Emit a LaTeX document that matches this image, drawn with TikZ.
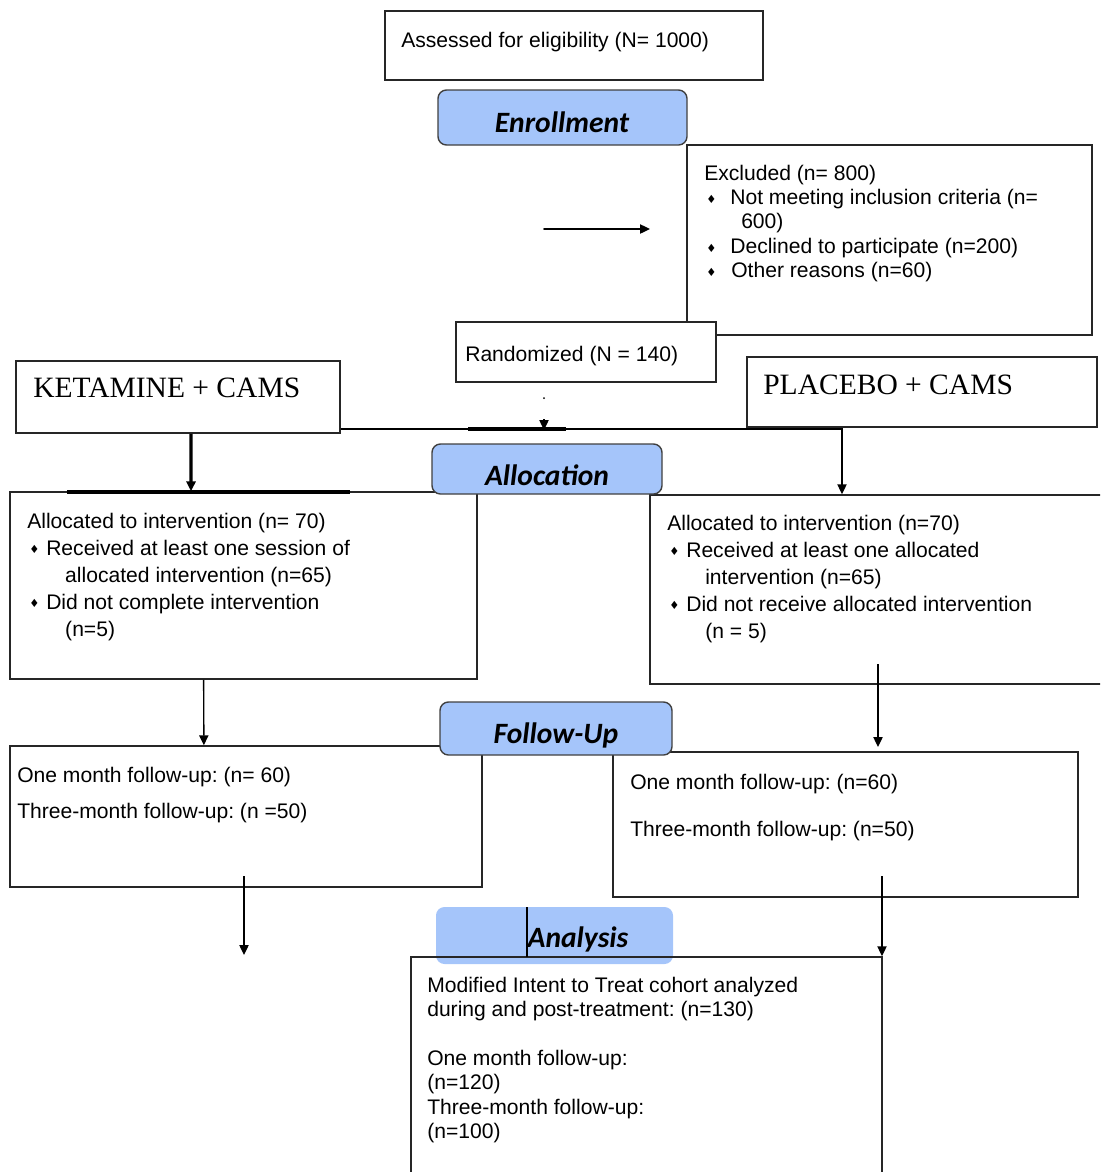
\documentclass[tikz,border=0pt]{standalone}
\usepackage{fontspec}
\setmainfont{Liberation Sans}
\newfontfamily\seriffont{Liberation Serif}
\newfontfamily\phasefont{Carlito}
\newfontfamily\diafont{DejaVu Sans}
\usetikzlibrary{arrows.meta,fit,calc}
\frenchspacing

\definecolor{phaseblue}{RGB}{165,197,250}
\newcommand{\dia}{\raisebox{1pt}{\diafont\fontsize{8pt}{8pt}\selectfont ♦}}
\newcommand{\bul}[1]{\makebox[#1][l]{\hspace{1.5pt}\dia}}
\newcommand{\boxlines}[1]{\begin{tabular}[t]{@{}l@{}}#1\end{tabular}}

\tikzset{
  >={Triangle[length=7pt,width=6.5pt]},
  box/.style={draw=black!85, line width=1.1pt, fill=white, inner sep=0pt},
  phase/.style={draw=black!75, line width=1pt, fill=phaseblue, rounded corners=6pt, inner sep=0pt},
  phasetext/.style={anchor=base, inner sep=0pt, font=\phasefont\bfseries\itshape\fontsize{21pt}{21pt}\selectfont},
  txt/.style={anchor=base west, inner sep=0pt, font=\fontsize{15pt}{17.4pt}\selectfont},
  conn/.style={line width=1pt, ->},
  thickbar/.style={line width=2.4pt},
}

\begin{document}
\begin{tikzpicture}[x=0.025cm, y=-0.025cm]
\useasboundingbox (0,0) rectangle (1100,1172);
\clip (0,0) rectangle (1100,1172);

% boxes
\node (assess) [box, fit={(385,11) (763,80)}] {};
\node (excl) [box, fit={(687,145) (1092,335)}] {};
\node (rand) [box, fit={(456,322) (716,382)}] {};
\node (keta) [box, fit={(16,361) (340,433)}] {};
\node (plac) [box, fit={(747,357) (1097,427)}] {};
\node (lalloc) [box, fit={(10,492) (477,679)}] {};
\node (ralloc) [box, fit={(650,495) (1112,684)}] {};
\node (lfu) [box, fit={(10,746) (482,887)}] {};
\node (rfu) [box, fit={(613,752) (1078,897)}] {};

% connectors
\coordinate (exA) at (544,229);
\coordinate (exB) at (650,229);
\fill (exA) circle (0.8);
\draw [conn] (exA) -- (exB);

\coordinate (randdot) at (544,398);
\coordinate (randtip) at (544,430);
\fill (randdot) circle (1);
\draw [conn] (randtip) ++(0,-11) -- (randtip);
\draw [thickbar] (468,429) -- (566,429);

\coordinate (split) at (842,429);
\draw [conn] (keta.east |- split) -| (ralloc.north -| split);

\draw [conn, line width=2.2pt] ($(keta.south west)!0.54!(keta.south east)$) -- ($(lalloc.north west)!0.388!(lalloc.north east)$);
\draw [thickbar] (67,492) -- (350,492);

\draw [conn] ($(lalloc.south west)!0.415!(lalloc.south east)$) -- ($(lfu.north west)!0.411!(lfu.north east)$);
\coordinate (rc1) at (878,664);
\coordinate (rc2) at (878,747);
\draw [conn] (rc1) -- (rc2);

\coordinate (lf1) at (244,876);
\coordinate (lf2) at (244,955);
\draw [conn] (lf1) -- (lf2);

% phase labels
\node (enrol) [phase, fit={(438,90) (687,145)}] {};
\node (alloc) [phase, fit={(432,444) (662,494)}] {};
\node (fu) [phase, fit={(440,702) (672,755)}] {};
\node (anaphase) [phase, draw=none, fit={(436,907) (673,964)}] {};
\node (ana) [box, fill=none, fit={(411,957) (882,1190)}] {};
\draw [line width=1pt] (527,907) -- (527,957);
\coordinate (rf1) at (882,876);
\draw [conn] (rf1) -- (rf1 |- ana.north);

\node (enroltxt) [phasetext] at (562,132) {Enrollment};
\node (alloctxt) [phasetext] at (547,485) {Allocation};
\node (futxt) [phasetext] at (556,743) {Follow-Up};
\node (anatxt) [phasetext] at (578,947) {Analysis};

% texts
\node (assesstxt) [txt] at (401,47) {Assessed for eligibility (N= 1000)};
\node (excltxt) [txt] at (704,180) {\boxlines{Excluded (n= 800)\\
  \bul{18.5pt}Not meeting inclusion criteria (n=\\
  \hspace*{26.3pt}600)\\
  \bul{18.5pt}Declined to participate (n=200)\\
  \bul{19.2pt}Other reasons (n=60)}};
\node (randtxt) [txt] at (465,361) {Randomized (N = 140)};
\node (ketatxt) [txt, font=\seriffont\fontsize{21pt}{21pt}\selectfont] at (33,397) {KETAMINE + CAMS};
\node (plactxt) [txt, font=\seriffont\fontsize{21pt}{21pt}\selectfont] at (763,394) {PLACEBO + CAMS};

\node (lalloctxt) [txt, font=\fontsize{15pt}{19.2pt}\selectfont] at (27,528) {\boxlines{Allocated to intervention (n= 70)\\
  \bul{13.5pt}Received at least one session of\\
  \hspace*{27pt}allocated intervention (n=65)\\
  \bul{13.5pt}Did not complete intervention\\
  \hspace*{27pt}(n=5)}};
\node (ralloctxt) [txt, font=\fontsize{15pt}{19.2pt}\selectfont] at (667,530) {\boxlines{Allocated to intervention (n=70)\\
  \bul{13.5pt}Received at least one allocated\\
  \hspace*{27pt}intervention (n=65)\\
  \bul{13.5pt}Did not receive allocated intervention\\
  \hspace*{27pt}(n = 5)}};

\node (lfutxt) [txt, font=\fontsize{15pt}{26.3pt}\selectfont] at (17,782) {\boxlines{One month follow-up: (n= 60)\\
  Three-month follow-up: (n =50)}};
\node (rfutxt) [txt, font=\fontsize{15pt}{34.1pt}\selectfont] at (630,789) {\boxlines{One month follow-up: (n=60)\\
  Three-month follow-up: (n=50)}};

\node (anatxtbody) [txt] at (427,992) {\boxlines{Modified Intent to Treat cohort analyzed\\
  during and post-treatment: (n=130)\\
  \\
  One month follow-up:\\
  (n=120)\\
  Three-month follow-up:\\
  (n=100)}};
\end{tikzpicture}
\end{document}
